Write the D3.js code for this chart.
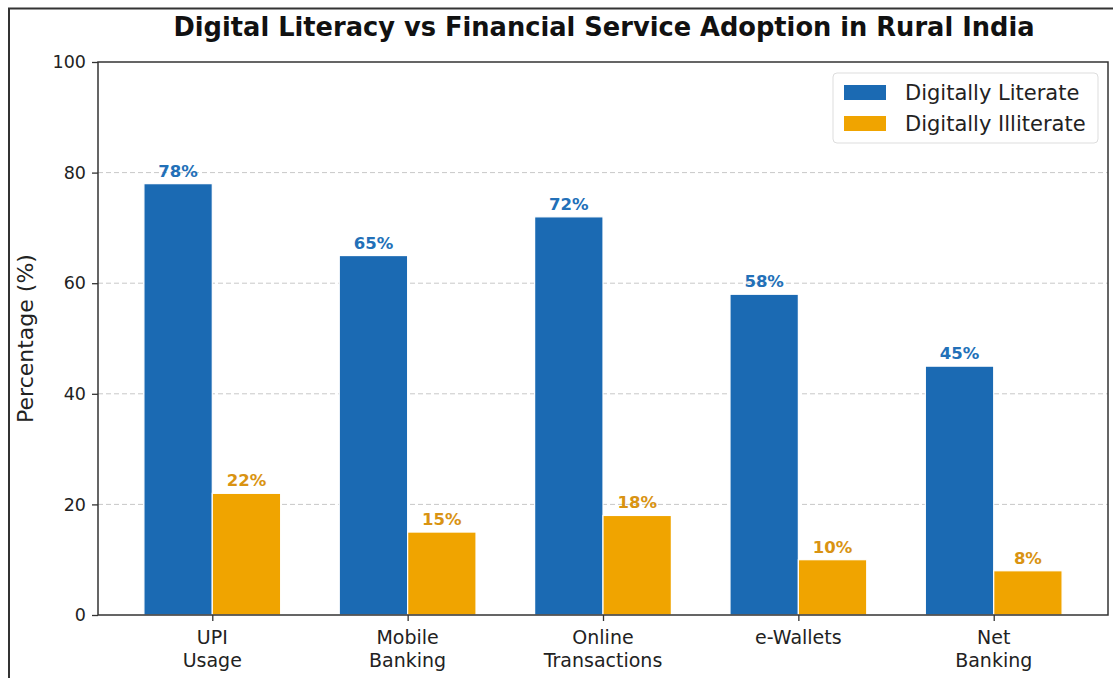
<!DOCTYPE html>
<html>
<head>
<meta charset="utf-8">
<script src="https://cdn.jsdelivr.net/npm/d3@7"></script>
<style>
  body { margin: 0; background: #fff; }
  svg { font-family: "DejaVu Sans", sans-serif; }
</style>
</head>
<body>
<svg id="chart" width="1113" height="678"></svg>
<script>
// Datos del gráfico
const categories = [["UPI", "Usage"], ["Mobile", "Banking"], ["Online", "Transactions"], ["e-Wallets"], ["Net", "Banking"]];
const literate = [78, 65, 72, 58, 45];
const illiterate = [22, 15, 18, 10, 8];
const seriesNames = ["Digitally Literate", "Digitally Illiterate"];
const yTicks = [0, 20, 40, 60, 80, 100];

const blue = "#1b6ab3", orange = "#f0a400";
const blueText = "#2270b8", orangeText = "#d99312";

const svg = d3.select("#chart");
const m = { left: 98, right: 1108, top: 62, bottom: 615 };

// frame around the figure
svg.append("rect")
  .attr("x", 9).attr("y", 8.5).attr("width", 1120).attr("height", 700)
  .attr("fill", "none").attr("stroke", "#333").attr("stroke-width", 2);

const x = d3.scaleLinear().domain([-0.585, 4.585]).range([m.left, m.right]);
const y = d3.scaleLinear().domain([0, 100]).range([m.bottom, m.top]);
const w = 0.35;

// grid
svg.append("g").selectAll("line")
  .data(yTicks.filter(t => t > 0 && t < 100))
  .enter().append("line")
  .attr("x1", m.left).attr("x2", m.right)
  .attr("y1", d => y(d)).attr("y2", d => y(d))
  .attr("stroke", "#c8c8c8").attr("stroke-width", 1)
  .attr("stroke-dasharray", "5,3");

// barras
function drawBars(vals, offset, fill, textFill) {
  svg.append("g").selectAll("rect")
    .data(vals).enter().append("rect")
    .attr("x", (d, i) => x(i + offset - w / 2))
    .attr("y", d => y(d))
    .attr("width", x(w) - x(0))
    .attr("height", d => y(0) - y(d))
    .attr("fill", fill)
    .attr("stroke", "#fff").attr("stroke-width", 1.2);
  svg.append("g").selectAll("text")
    .data(vals).enter().append("text")
    .attr("x", (d, i) => x(i + offset))
    .attr("y", d => y(d) - 7)
    .attr("text-anchor", "middle")
    .attr("font-size", 16.5).attr("font-weight", "bold")
    .attr("fill", textFill)
    .text(d => d + "%");
}
drawBars(literate, -w / 2, blue, blueText);
drawBars(illiterate, w / 2, orange, orangeText);

// ejes
const yAxis = d3.axisLeft(y).tickValues(yTicks).tickSize(6).tickPadding(6);
const gy = svg.append("g").attr("transform", `translate(${m.left},0)`).call(yAxis);
gy.selectAll("text").attr("font-size", 17.5).attr("fill", "#222").attr("font-family", "DejaVu Sans");
gy.selectAll("line").attr("stroke", "#333").attr("stroke-width", 1.3);
gy.select(".domain").remove();

const xAxis = d3.axisBottom(x).tickValues(d3.range(categories.length)).tickSize(6).tickFormat("");
const gx = svg.append("g").attr("transform", `translate(0,${m.bottom})`).call(xAxis);
gx.selectAll("line").attr("stroke", "#333").attr("stroke-width", 1.3);
gx.select(".domain").remove();

svg.append("g").selectAll("text")
  .data(categories).enter().append("text")
  .attr("text-anchor", "middle")
  .attr("font-size", 19).attr("fill", "#222")
  .each(function(d, i) {
    d3.select(this).selectAll("tspan").data(d).enter().append("tspan")
      .attr("x", x(i)).attr("y", (t, j) => 644 + j * 23)
      .text(t => t);
  });

// spines
svg.append("rect")
  .attr("x", m.left).attr("y", m.top)
  .attr("width", m.right - m.left).attr("height", m.bottom - m.top)
  .attr("fill", "none").attr("stroke", "#333").attr("stroke-width", 1.5);

// título y etiqueta
svg.append("text")
  .attr("x", (m.left + m.right) / 2 + 1).attr("y", 36)
  .attr("text-anchor", "middle")
  .attr("font-size", 25.7).attr("font-weight", "bold").attr("fill", "#111")
  .text("Digital Literacy vs Financial Service Adoption in Rural India");

svg.append("text")
  .attr("transform", `translate(33,${(m.top + m.bottom) / 2}) rotate(-90)`)
  .attr("text-anchor", "middle")
  .attr("font-size", 22).attr("fill", "#222")
  .text("Percentage (%)");

// leyenda
const lg = svg.append("g").attr("transform", "translate(833,73)");
lg.append("rect").attr("width", 265).attr("height", 70).attr("rx", 4)
  .attr("fill", "#fff").attr("stroke", "#ddd");
[blue, orange].forEach((c, i) => {
  lg.append("rect").attr("x", 11).attr("y", 12 + i * 31).attr("width", 42).attr("height", 15).attr("fill", c);
  lg.append("text").attr("x", 72).attr("y", 27 + i * 31)
    .attr("font-size", 21).attr("fill", "#222").text(seriesNames[i]);
});
</script>
</body>
</html>
